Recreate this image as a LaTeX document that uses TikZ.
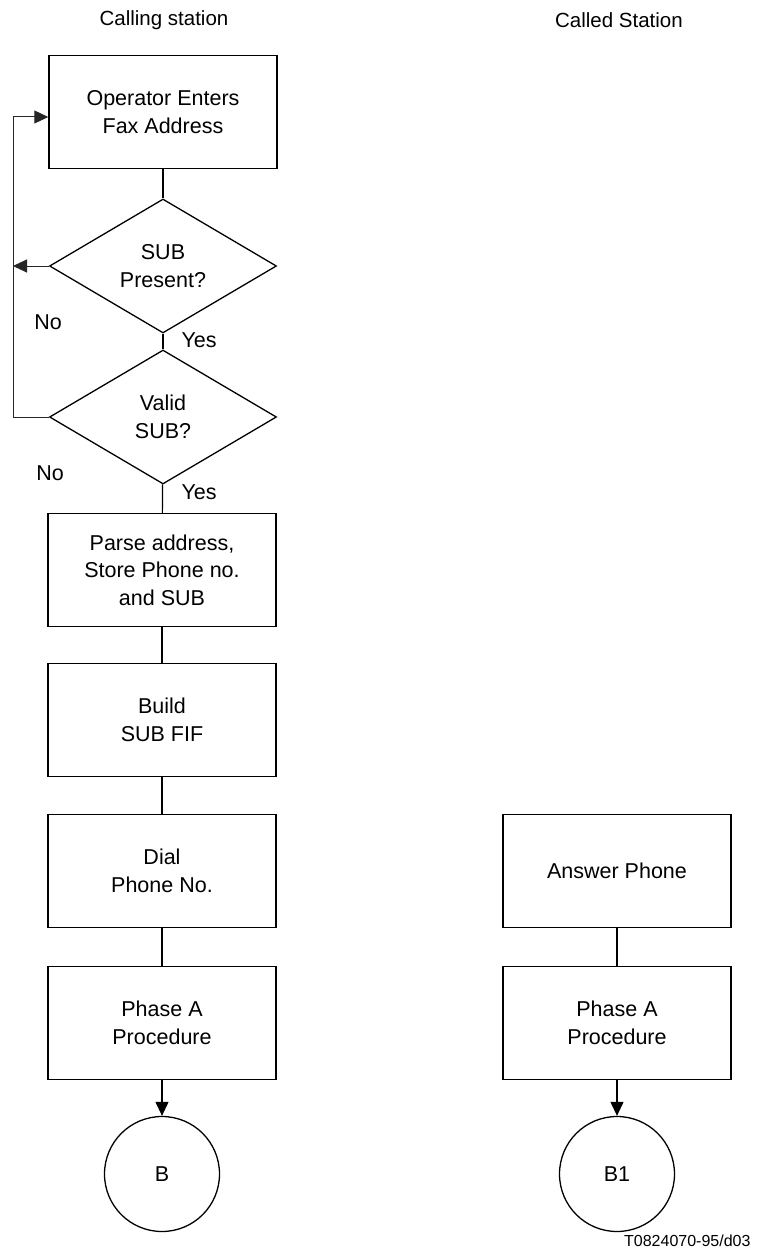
\documentclass[tikz,border=0pt]{standalone}
\usepackage{fontspec}
\setmainfont{Liberation Sans}
\usetikzlibrary{shapes.geometric, arrows.meta, positioning}

\begin{document}
\begin{tikzpicture}[x=1pt,y=-1pt,
  every node/.style={font=\fontsize{21.5}{27.5}\selectfont},
  stepbox/.style={draw, line width=1.4pt, minimum width=228pt, minimum height=113pt, align=center, inner sep=0pt},
  decision/.style={diamond, draw, line width=1.3pt, minimum width=227pt, minimum height=134pt, aspect=1.7, align=center, inner sep=0pt},
  onpage/.style={circle, draw, line width=1.3pt, minimum size=115pt, inner sep=0pt},
  title/.style={font=\fontsize{20.5}{24}\selectfont},
  link/.style={line width=1.2pt},
  loopline/.style={line width=1pt, black!85},
  arr/.style={-{Triangle[length=14pt,width=13pt]}}]
  \path[use as bounding box] (0,0) rectangle (756,1252);

  % Column titles
  \node[title] (callingTitle) at (164,20) {Calling station};
  \node[title] (calledTitle) at (619,20) {Called Station};

  % Calling station
  \node[stepbox] (enter) at (163,112) {Operator Enters\\Fax Address};
  \node[decision] (present) at (163,266) {SUB\\Present?};
  \node[decision] (valid) at (163,417) {Valid\\SUB?};
  \node[stepbox] (parse) at (162,570) {Parse address,\\Store Phone no.\\and SUB};
  \node[stepbox] (build) at (162,720) {Build\\SUB FIF};
  \node[stepbox] (dial) at (162,871) {Dial\\Phone No.};
  \node[stepbox] (phaseA) at (162,1023) {Phase A\\Procedure};
  \node[onpage] (B) at (162,1174) {B};

  \node[anchor=west] (yesPresent) at (178,340) {Yes};
  \node (noPresent) at (48,322) {No};
  \node[anchor=west] (yesValid) at (178,492) {Yes};
  \node (noValid) at (50,473) {No};

  \draw[link] (enter) -- (present);
  \draw[link] (present) -- (valid);
  \draw[link] (valid) -- (parse);
  \draw[link] (parse) -- (build);
  \draw[link] (build) -- (dial);
  \draw[link] (dial) -- (phaseA);
  \draw[link, arr] (phaseA) -- (B);

  % back to the operator
  \coordinate (back) at (13,417);
  \draw[loopline, arr] (valid.west) -- (back) |- ([yshift=-5pt]enter.west);
  \draw[loopline, arr] (present.west) -- (present.west -| back);

  % Called station
  \node[stepbox] (answer) at (617,871) {Answer Phone};
  \node[stepbox] (phaseAcalled) at (617,1023) {Phase A\\Procedure};
  \node[onpage] (Bone) at (617,1174) {B1};

  \draw[link] (answer) -- (phaseAcalled);
  \draw[link, arr] (phaseAcalled) -- (Bone);

  \node[anchor=east, font=\fontsize{16}{19}\selectfont] (docId) at (754,1241) {T0824070-95/d03};
\end{tikzpicture}
\end{document}
